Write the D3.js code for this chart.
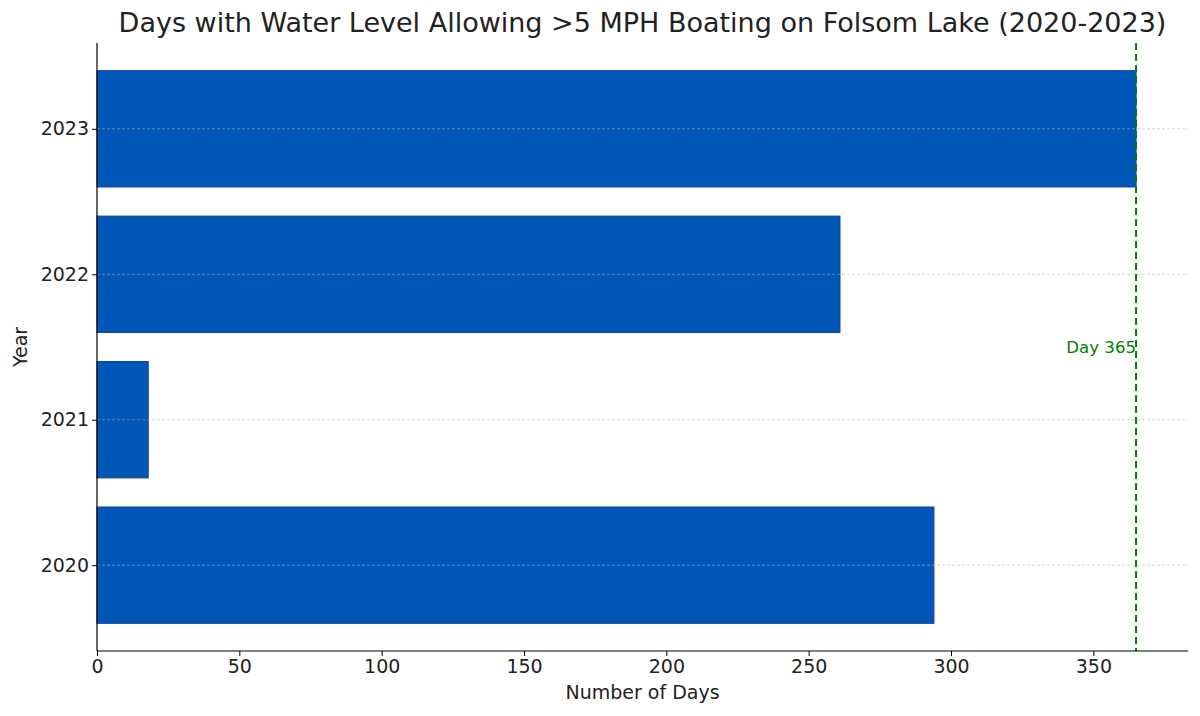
<!DOCTYPE html>
<html><head><meta charset="utf-8">
<script src="https://cdn.jsdelivr.net/npm/d3@7"></script>
<style>body{margin:0;background:#fff;} text{font-family:"DejaVu Sans",sans-serif;}</style>
</head><body><svg id="c" width="1200" height="716"></svg>
<script>
const years = ["2020","2021","2022","2023"];
const days = [294, 18, 261, 365];
const xTicks = [0,50,100,150,200,250,300,350];
const refDay = 365;
const refLabel = "Day 365";
const title = "Days with Water Level Allowing >5 MPH Boating on Folsom Lake (2020-2023)";

const svg = d3.select("#c");
const L=97, R=1188, T=43, B=651;
const x = d3.scaleLinear().domain([0, 383.25]).range([L, R]);
const y = d3.scaleLinear().domain([-0.59, 3.59]).range([B, T]);
const bh = y(0) - y(0.8);

svg.selectAll("rect.bar").data(years).enter().append("rect")
  .attr("x", x(0)).attr("y", (d,i)=>y(i)-bh/2)
  .attr("width", (d,i)=>x(days[i])-x(0)).attr("height", bh)
  .attr("fill", "#0057b8").attr("stroke", "#1a3fa0").attr("stroke-width", 1);

svg.selectAll("line.grid").data(years).enter().append("line")
  .attr("x1", L).attr("x2", R).attr("y1",(d,i)=>y(i)).attr("y2",(d,i)=>y(i))
  .attr("stroke", "#b0b0b0").attr("stroke-opacity",0.7).attr("stroke-width",0.8).attr("stroke-dasharray","3,2");

svg.append("line").attr("x1", x(refDay)).attr("x2", x(refDay)).attr("y1", T).attr("y2", B)
  .attr("stroke", "#008000").attr("stroke-width", 2).attr("stroke-dasharray", "7,4");
svg.append("text").attr("x", x(refDay)).attr("y", y(1.5)).attr("text-anchor","end")
  .attr("dominant-baseline","central").attr("fill","#008000").attr("font-size",16.6).text(refLabel);

const xa = svg.append("g").attr("transform",`translate(0,${B})`)
  .call(d3.axisBottom(x).tickValues(xTicks).tickSize(5).tickPadding(4).tickSizeOuter(0));
xa.select(".domain").attr("stroke","#000").attr("stroke-width",1.2).attr("d",`M${L},0H${R}`);
xa.selectAll("text").attr("font-size",19).attr("fill","#222").style("font-family","DejaVu Sans");
const ya = svg.append("g").attr("transform",`translate(${L},0)`)
  .call(d3.axisLeft(y).tickValues([0,1,2,3]).tickFormat(i=>years[i]).tickSize(5).tickPadding(3).tickSizeOuter(0));
ya.select(".domain").attr("stroke","#000").attr("stroke-width",1.2).attr("d",`M0,${B}V${T}`);
ya.selectAll("text").attr("font-size",19).attr("fill","#222").style("font-family","DejaVu Sans");

svg.append("text").attr("x",(L+R)/2).attr("y",699).attr("text-anchor","middle").attr("font-size",19).attr("fill","#222").text("Number of Days");
svg.append("text").attr("transform",`translate(27,${(T+B)/2}) rotate(-90)`).attr("text-anchor","middle").attr("font-size",19).attr("fill","#222").text("Year");
svg.append("text").attr("x",(L+R)/2 - 0).attr("y",32).attr("text-anchor","middle").attr("font-size",27).attr("fill","#222").text(title);
</script></body></html>
